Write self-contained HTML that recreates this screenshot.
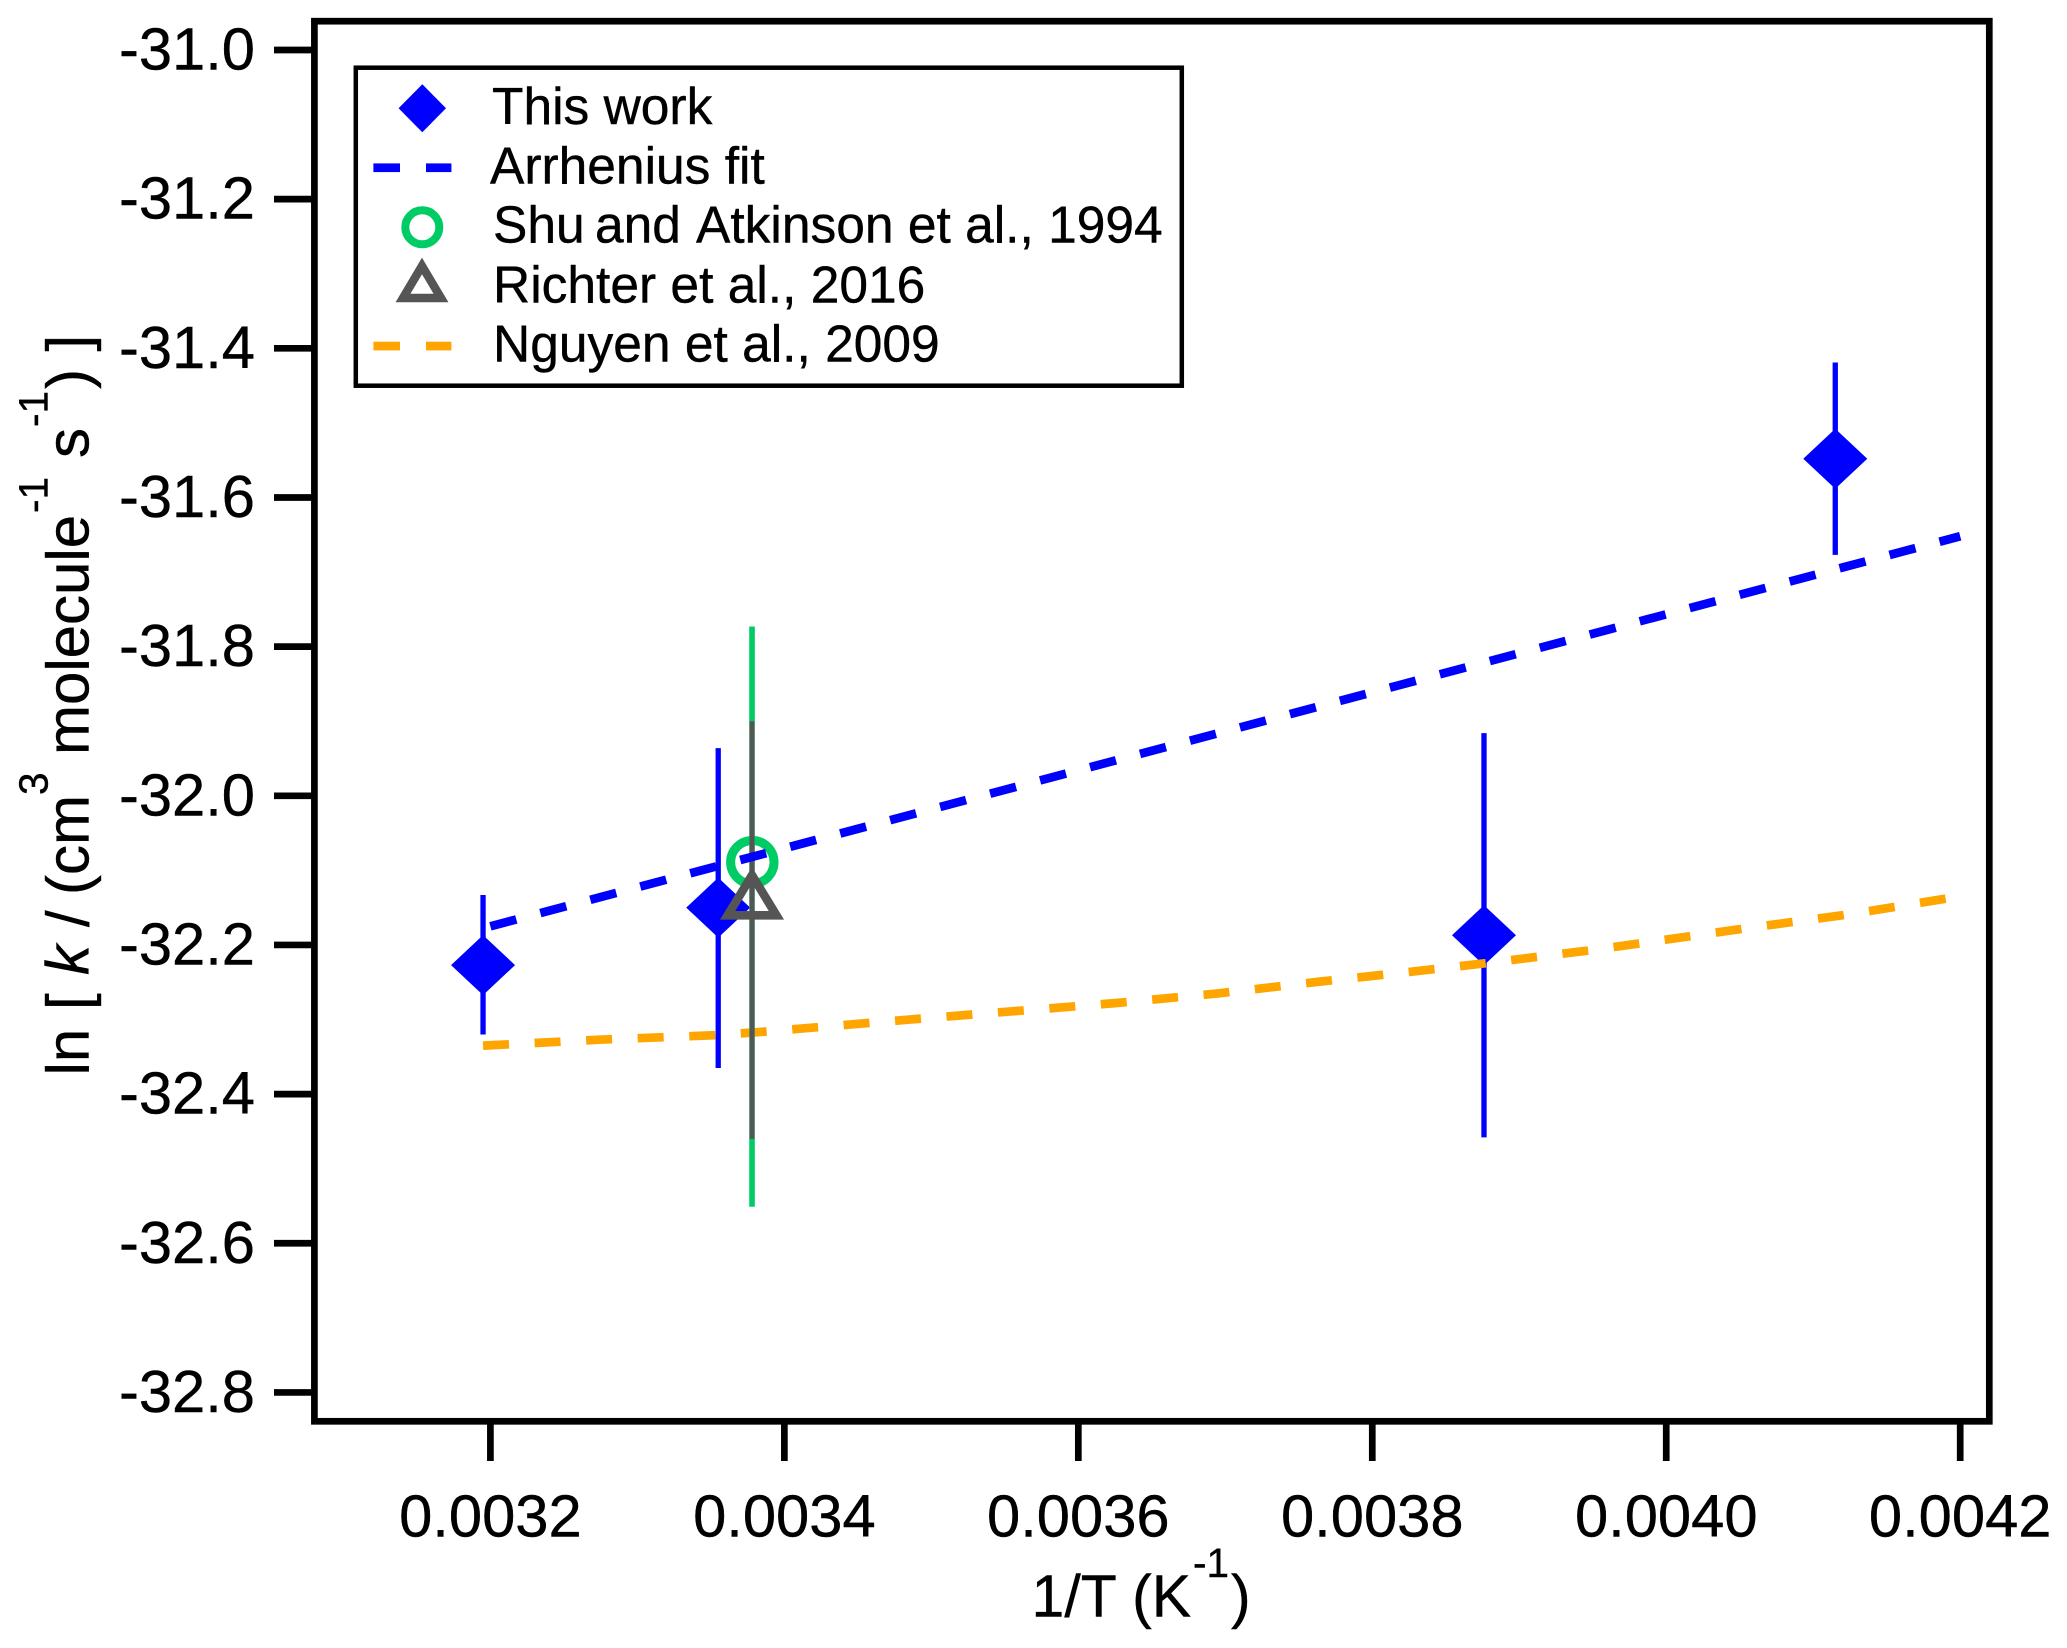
<!DOCTYPE html>
<html lang="en">
<head>
<meta charset="utf-8">
<title>Arrhenius plot</title>
<style>
html,body{margin:0;padding:0;background:#fff;}
svg{display:block;}
text{font-family:"Liberation Sans",Arial,sans-serif;fill:#000;stroke:#000;stroke-width:0.4px;}
.tick{font-size:59.7px;}
.leg{font-size:51.5px;}
.ttl{font-size:60px;}
.xttl{font-size:59px;}
.sup{font-size:40.5px;}
</style>
</head>
<body>
<svg id="chart" width="2067" height="1648" viewBox="0 0 2067 1648" xmlns="http://www.w3.org/2000/svg">
  <rect x="0" y="0" width="2067" height="1648" fill="#fff"/>
  <g id="marks"></g>
  <rect x="314.4" y="21.2" width="1674.9" height="1400.1" fill="none" stroke="#000" stroke-width="6.7"/>
  <g id="axes"></g>

  <g>
    <text class="xttl" x="1031.5" y="1616.5">1/T (K</text>
    <text class="sup" x="1193" y="1577">-1</text>
    <text class="xttl" x="1231" y="1616.5">)</text>
  </g>

  <g transform="translate(88.3,0) rotate(-90)">
    <text class="ttl" x="-1075.5">ln</text>
    <text class="ttl" x="-1010">[</text>
    <text class="ttl" x="-975" font-style="italic">k</text>
    <text class="ttl" x="-927">/</text>
    <text class="ttl" x="-895">(cm</text>
    <text class="sup" x="-795" y="-41">3</text>
    <text class="ttl" x="-755">molecule</text>
    <text class="sup" x="-513" y="-41">-1</text>
    <text class="ttl" x="-458">s</text>
    <text class="sup" x="-427" y="-41">-1</text>
    <text class="ttl" x="-389">)</text>
    <text class="ttl" x="-351.5">]</text>
  </g>

  <g>
    <rect x="355.8" y="67.7" width="826" height="318" fill="#fff" stroke="#000" stroke-width="4.5"/>
    <g>
      <polygon points="422.3,84.3 446,108.3 422.3,132.3 398.6,108.3" fill="#0000ff"/>
      <text class="leg" x="492" y="124">This work</text>
    </g>
    <g>
      <rect x="373.4" y="163.4" width="26.6" height="8.7" fill="#0000ff"/>
      <rect x="426" y="163.4" width="25.4" height="8.7" fill="#0000ff"/>
      <text class="leg" x="490" y="183.3">Arrhenius fit</text>
    </g>
    <g>
      <circle cx="422.3" cy="227.3" r="17" fill="none" stroke="#00cc66" stroke-width="8"/>
      <text class="leg" y="242.7"><tspan x="493">Shu</tspan><tspan x="595">and</tspan><tspan x="696">Atkinson et al., 1994</tspan></text>
    </g>
    <g>
      <polygon points="422,266 441,298 403,298" fill="none" stroke="#555555" stroke-width="8.5"/>
      <text class="leg" x="493" y="302.3">Richter et al., 2016</text>
    </g>
    <g>
      <rect x="373.4" y="341.7" width="26.6" height="8.7" fill="#ffa500"/>
      <rect x="426" y="341.7" width="25.4" height="8.7" fill="#ffa500"/>
      <text class="leg" x="493" y="361.7">Nguyen et al., 2009</text>
    </g>
  </g>
</svg>

<script>
const xTickLabels = ["0.0032","0.0034","0.0036","0.0038","0.0040","0.0042"];
const yTickLabels = ["-31.0","-31.2","-31.4","-31.6","-31.8","-32.0","-32.2","-32.4","-32.6","-32.8"];

const workX = [0.003195, 0.003355, 0.003876, 0.004115];
const workY = [-32.227, -32.150, -32.187, -31.548];
const workErrHigh = [-32.133, -31.936, -31.916, -31.419];
const workErrLow = [-32.320, -32.365, -32.458, -31.677];

const fitX = [0.003200, 0.004200];
const fitY = [-32.175, -31.652];

const shuX = [0.003378];
const shuY = [-32.089];
const shuErrHigh = [-31.773];
const shuErrLow = [-32.551];

const richterX = [0.003378];
const richterY = [-32.133];
const richterErrHigh = [-31.900];
const richterErrLow = [-32.460];

const nguyenX = [0.003195, 0.003274, 0.003353, 0.003388, 0.003485, 0.003555, 0.003625, 0.003695, 0.003765, 0.003826, 0.003879, 0.003949, 0.004053, 0.004124, 0.004193];
const nguyenY = [-32.335, -32.327, -32.321, -32.316, -32.300, -32.289, -32.278, -32.265, -32.249, -32.236, -32.224, -32.207, -32.178, -32.159, -32.137];

const NS = "http://www.w3.org/2000/svg";
const marks = document.getElementById("marks");
const axes = document.getElementById("axes");

function xScale(v) { return 490.4 + (v - 0.0032) * 1469800; }
function yScale(v) { return 50 + (-31 - v) * 745.8; }

function make(parent, tag, attrs) {
  const node = document.createElementNS(NS, tag);
  for (const key in attrs) { node.setAttribute(key, attrs[key]); }
  parent.appendChild(node);
  return node;
}

/* axes */
xTickLabels.forEach(function (label) {
  const px = xScale(parseFloat(label));
  let el = make(axes, "line", {x1: px, x2: px, y1: 1421, y2: 1461, stroke: "#000", "stroke-width": 6.7});
  
  
  el = make(axes, "text", {x: px, y: 1536.5, "text-anchor": "middle", "class": "tick"});
  el.textContent = label;
  
  
});
yTickLabels.forEach(function (label) {
  const py = yScale(parseFloat(label));
  let el = make(axes, "line", {x1: 274, x2: 314, y1: py, y2: py, stroke: "#000", "stroke-width": 6.7});
  
  
  el = make(axes, "text", {x: 255, y: py + 19.5, "text-anchor": "end", "class": "tick"});
  el.textContent = label;
  
  
});

/* this work: error bars and diamonds */
workX.forEach(function (x, i) {
  const px = xScale(x);
  const py = yScale(workY[i]);
  let el = make(marks, "line", {x1: px, x2: px, y1: yScale(workErrHigh[i]), y2: yScale(workErrLow[i]), stroke: "#0000ff", "stroke-width": 5.3});
  
  
  el = make(marks, "polygon", {points: [px, py - 30, px + 32, py, px, py + 30, px - 32, py].join(","), fill: "#0000ff"});
  
  
});

/* Nguyen curve */
const nguyenPoints = nguyenX.map(function (x, i) { return xScale(x) + "," + yScale(nguyenY[i]); }).join(" ");
const nguyenLine = make(marks, "polyline", {points: nguyenPoints, fill: "none", stroke: "#ffa500", "stroke-width": 8.7, "stroke-dasharray": "26 25.6"});



/* Shu and Atkinson */
shuX.forEach(function (x, i) {
  const px = xScale(x);
  let el = make(marks, "line", {x1: px, x2: px, y1: yScale(shuErrHigh[i]), y2: yScale(shuErrLow[i]), stroke: "#00cc66", "stroke-width": 5.6});
  
  
  el = make(marks, "circle", {cx: px + 0.3, cy: yScale(shuY[i]), r: 21.7, fill: "none", stroke: "#00cc66", "stroke-width": 9});
  
  
});

/* Richter */
richterX.forEach(function (x, i) {
  const px = xScale(x);
  const py = yScale(richterY[i]);
  let el = make(marks, "line", {x1: px, x2: px, y1: yScale(richterErrHigh[i]), y2: yScale(richterErrLow[i]), stroke: "#555555", "stroke-width": 5});
  
  
  el = make(marks, "polygon", {points: [px, py - 19.8, px + 24.4, py + 20.35, px - 24.4, py + 20.35].join(","), fill: "none", stroke: "#555555", "stroke-width": 8.6});
  
  
});

/* Arrhenius fit */
const fitPoints = fitX.map(function (x, i) { return xScale(x) + "," + yScale(fitY[i]); }).join(" ");
const fitLine = make(marks, "polyline", {points: fitPoints, fill: "none", stroke: "#0000ff", "stroke-width": 8.7, "stroke-dasharray": "26.8 24.9"});


</script>
</body>
</html>
